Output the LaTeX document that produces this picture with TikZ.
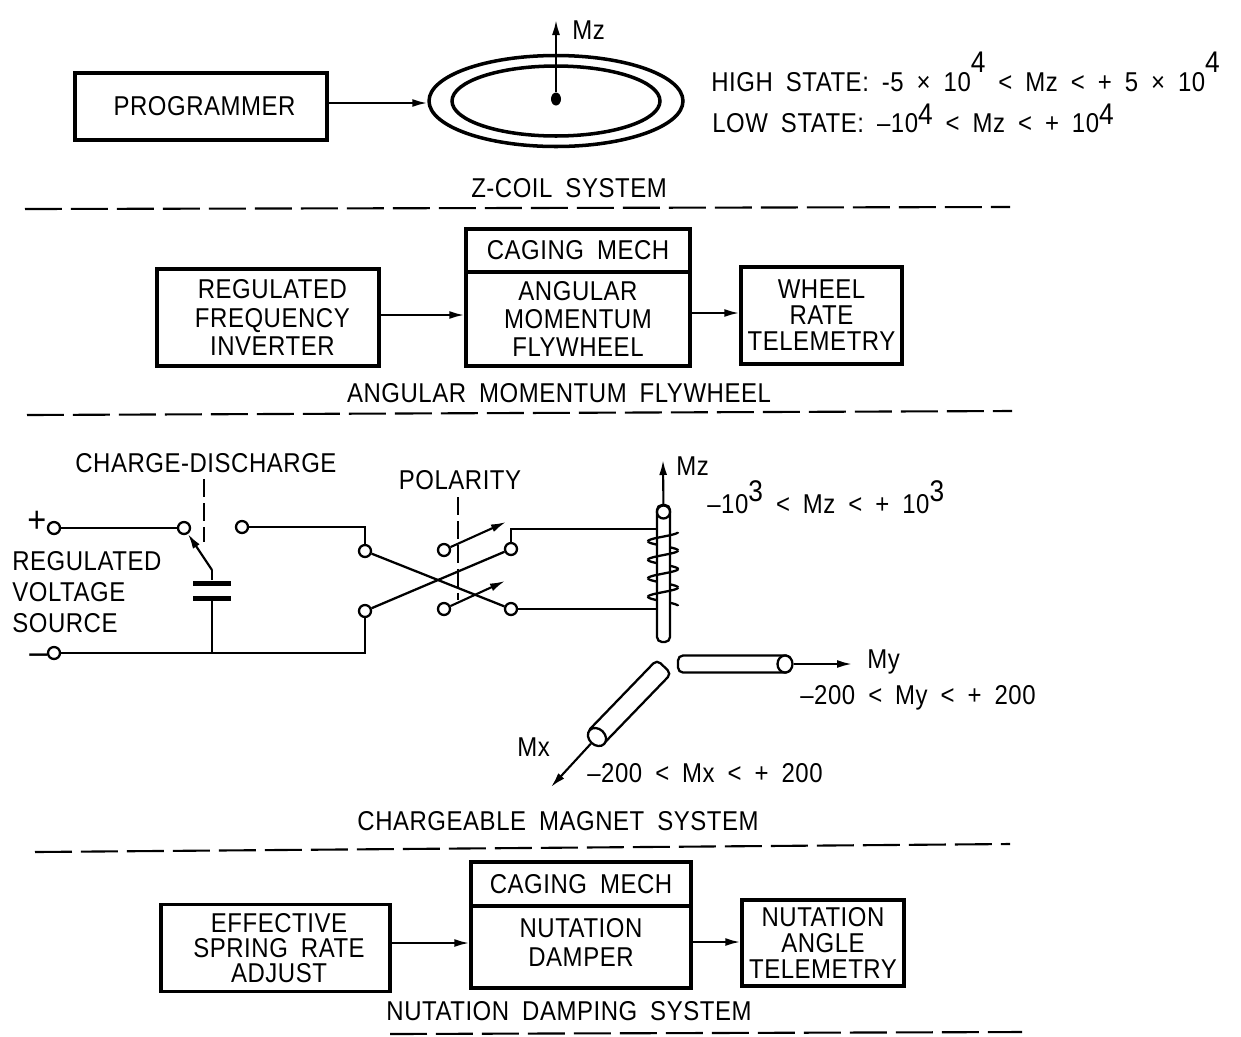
\documentclass[tikz,border=0pt]{standalone}
\usepackage{fontspec}
\setmainfont[FakeStretch=0.88,LetterSpace=2,WordSpace=1.8]{Liberation Sans}
\usetikzlibrary{arrows.meta, positioning, calc, shapes.geometric}
\newcommand{\pw}[2][1.3ex]{\smash{\raisebox{#1}{\fontsize{17}{17}\selectfont #2}}}

\begin{document}
\begin{tikzpicture}[x=0.02cm, y=-0.02cm,
    lbl/.style={font=\fontsize{15.5}{16}\selectfont, inner sep=0pt},
    sign/.style={font=\fontsize{21}{21}\selectfont, inner sep=0pt, text height=0.2cm, text depth=0pt},
    box/.style={draw, line width=2pt, inner sep=0pt, align=center, font=\fontsize{15.5}{16.2}\selectfont},
    wire/.style={line width=1.3pt},
    arr/.style={line width=1.2pt, -{Latex[length=0.3cm, width=0.16cm]}},
    divider/.style={line width=1.2pt, dash pattern=on 0.74cm off 0.18cm},
    swdash/.style={line width=1.2pt, dash pattern=on 0.36cm off 0.12cm},
    term/.style={circle, draw, line width=1.3pt, fill=white, minimum size=0.24cm, inner sep=0pt},
    plate/.style={fill=black, minimum width=0.78cm, minimum height=0.1cm, inner sep=0pt},
    rod/.style={draw, line width=1.3pt, rounded corners=0.1cm, inner sep=0pt}]
    \useasboundingbox (0,0) rectangle (1241,1036);
    % z-coil
    \node[box, minimum width=5.04cm, minimum height=1.34cm] (prog) at (201,106.5) {\hspace*{4pt}PROGRAMMER};
    \node[ellipse, draw, line width=2pt, minimum width=5.08cm, minimum height=1.82cm, inner sep=0pt] (outer) at (556,101) {};
    \node[ellipse, draw, line width=2pt, minimum width=4.16cm, minimum height=1.4cm, inner sep=0pt] (inner) at (556,101) {};
    \node[ellipse, fill=black, minimum width=0.2cm, minimum height=0.26cm, inner sep=0pt] (dot) at (556,99) {};
    \coordinate (mzTop) at (556,20);
    \draw[arr] (dot) -- (mzTop);
    \draw[arr] (prog.east |- 0,103) -- (outer.west |- 0,103);
    \node[lbl, anchor=west] (mzA) at (572,30) {Mz};
    \node[lbl, anchor=base west] (high) at (711,91) {HIGH STATE: -5 × 10\pw{4} < Mz < + 5 × 10\pw{4}};
    \node[lbl, anchor=base west] (low) at (712,132) {LOW STATE: --10\pw[0.5ex]{4} < Mz < + 10\pw[0.5ex]{4}};
    \node[lbl] (tZ) at (569,188) {Z-COIL SYSTEM};
    \coordinate (d1a) at (25,209);
    \coordinate (d1b) at (1010,207);
    \draw[divider] (d1a) -- (d1b);
    % flywheel
    \node[box, minimum width=4.44cm, minimum height=1.94cm] (inv) at (268,317.5) {\hspace*{5pt}REGULATED\\\hspace*{5pt}FREQUENCY\\\hspace*{5pt}INVERTER};
    \node[box, minimum width=4.48cm, minimum height=0.86cm] (cage) at (578,250.5) {CAGING MECH};
    \node[box, minimum width=4.48cm, minimum height=1.88cm] (fly) at (578,319) {ANGULAR\\MOMENTUM\\FLYWHEEL};
    \node[box, minimum width=3.22cm, minimum height=1.94cm, font=\fontsize{15.5}{14.8}\selectfont] (wheel) at (821.5,315.5) {WHEEL\\RATE\\TELEMETRY};
    \draw[arr] (inv.east |- 0,315) -- (fly.west |- 0,315);
    \draw[arr] (fly.east |- 0,313) -- (wheel.west |- 0,313);
    \node[lbl] (tF) at (559,393) {ANGULAR MOMENTUM FLYWHEEL};
    \coordinate (d2a) at (27,415);
    \coordinate (d2b) at (1012,411);
    \draw[divider] (d2a) -- (d2b);
    % magnet circuit
    \node[lbl, anchor=west] (chg) at (75,463) {CHARGE-DISCHARGE};
    \node[lbl] (pol) at (460,480) {POLARITY};
    \node[sign, anchor=west] (plus) at (27,527) {+};
    \node[sign, anchor=west] (minus) at (29,659) {--};
    \node[lbl, anchor=west, align=left, font=\fontsize{15.5}{17.5}\selectfont] (src) at (12,592) {REGULATED\\VOLTAGE\\SOURCE};
    \node[term] (tPlus) at (54,528) {};
    \node[term] (tMinus) at (54,653) {};
    \node[term] (swA) at (184,528) {};
    \node[term] (swB) at (242,527) {};
    \node[term] (xA) at (365,551) {};
    \node[term] (xB) at (365,611) {};
    \node[term] (xC) at (511,549) {};
    \node[term] (xD) at (511,609) {};
    \node[term] (pA) at (444,550) {};
    \node[term] (pB) at (444,609) {};
    \node[plate] (capT) at (212,583) {};
    \node[plate] (capB) at (212,598) {};
    \coordinate (pivot) at (212,570);
    \coordinate (junc) at (212,653);
    \coordinate (pTipA) at (506,522);
    \coordinate (pTipB) at (505,581);
    \coordinate (rodA) at (657,529);
    \coordinate (rodB) at (657,609);
    \coordinate (chgTop) at (204,479);
    \coordinate (chgEnd) at (204,542);
    \coordinate (polTop) at (458,497);
    \coordinate (polEnd) at (458,600);
    \draw[wire] (tPlus) -- (swA);
    \draw[wire] (swB) -| (xA);
    \draw[wire] (tMinus) -| (xB);
    \draw[wire] (junc) -- (capB);
    \draw[wire] (capT) -- (pivot);
    \draw[arr] (pivot) -- (swA);
    \foreach \i/\j in {xA/xD,xB/xC} {
        \draw[wire] (\i) -- (\j);
    }
    \draw[wire] (xC) |- (rodA);
    \draw[wire] (xD) -- (rodB);
    \draw[arr] (pA) -- (pTipA);
    \draw[arr] (pB) -- (pTipB);
    \draw[swdash] (chgTop) -- (chgEnd);
    \draw[swdash] (polTop) -- (polEnd);
    % rods
    \foreach \a/\b in {180/360,540/720,900/1080,1260/1440} {
        \draw[wire] plot[domain=\a:\b, samples=25, smooth] ({663+15*cos(\x)}, {532+\x/360*18.5});
    }
    \node[rod, fill=white, minimum width=0.26cm, minimum height=2.74cm] (rodZ) at (663.5,573.5) {};
    \foreach \a/\b in {0/180,360/540,720/900,1080/1260} {
        \draw[wire] plot[domain=\a:\b, samples=25, smooth] ({663+15*cos(\x)}, {532+\x/360*18.5});
    }
    \node[term, minimum size=0.26cm] (capZ) at (663.5,512) {};
    \coordinate (mzTip) at (663,460);
    \draw[arr] (capZ) -- (mzTip);
    \node[lbl, anchor=west] (mzB) at (676,466) {Mz};
    \node[lbl, anchor=base west] (eqZ) at (707,513) {--10\pw[0.8ex]{3} < Mz < + 10\pw[0.8ex]{3}};
    \node[rod, minimum width=2.26cm, minimum height=0.34cm] (rodY) at (734.5,664) {};
    \node[ellipse, draw, line width=1.3pt, fill=white, minimum width=0.3cm, minimum height=0.34cm, inner sep=0pt] (capY) at (785,664) {};
    \coordinate (myTip) at (852,664);
    \draw[arr] (capY) -- (myTip);
    \node[lbl, anchor=west] (myL) at (867,662) {My};
    \node[lbl, anchor=west] (eqY) at (800,698) {--200 < My < + 200};
    \node[rod, rotate=46, minimum width=2.02cm, minimum height=0.4cm] (rodX) at (629,703) {};
    \node[ellipse, rotate=46, draw, line width=1.3pt, fill=white, minimum width=0.32cm, minimum height=0.4cm, inner sep=0pt] (capX) at (597,737) {};
    \coordinate (mxTip) at (551,787);
    \draw[arr] (capX) -- (mxTip);
    \node[lbl, anchor=west] (mxL) at (517,747) {Mx};
    \node[lbl, anchor=west] (eqX) at (587,773) {--200 < Mx < + 200};
    \node[lbl] (tM) at (558,821) {CHARGEABLE MAGNET SYSTEM};
    \coordinate (d3a) at (35,852);
    \coordinate (d3b) at (1010,844);
    \draw[divider] (d3a) -- (d3b);
    % damper
    \node[box, minimum width=4.58cm, minimum height=1.74cm, font=\fontsize{15.5}{14.4}\selectfont] (adj) at (275.5,948) {\hspace*{4pt}EFFECTIVE\\\hspace*{4pt}SPRING RATE\\\hspace*{4pt}ADJUST};
    \node[box, minimum width=4.4cm, minimum height=0.88cm] (cage2) at (581,884) {CAGING MECH};
    \node[box, minimum width=4.4cm, minimum height=1.64cm] (damp) at (581,947) {NUTATION\\DAMPER\\[-11pt]\mbox{}};
    \node[box, minimum width=3.24cm, minimum height=1.72cm, font=\fontsize{15.5}{14.8}\selectfont] (ang) at (823,943) {NUTATION\\ANGLE\\TELEMETRY};
    \draw[arr] (adj.east |- 0,943) -- (damp.west |- 0,943);
    \draw[arr] (damp.east |- 0,942) -- (ang.west |- 0,942);
    \node[lbl] (tN) at (569,1011) {NUTATION DAMPING SYSTEM};
    \coordinate (d4a) at (390,1034);
    \coordinate (d4b) at (1022,1032);
    \draw[divider] (d4a) -- (d4b);
\end{tikzpicture}
\end{document}
